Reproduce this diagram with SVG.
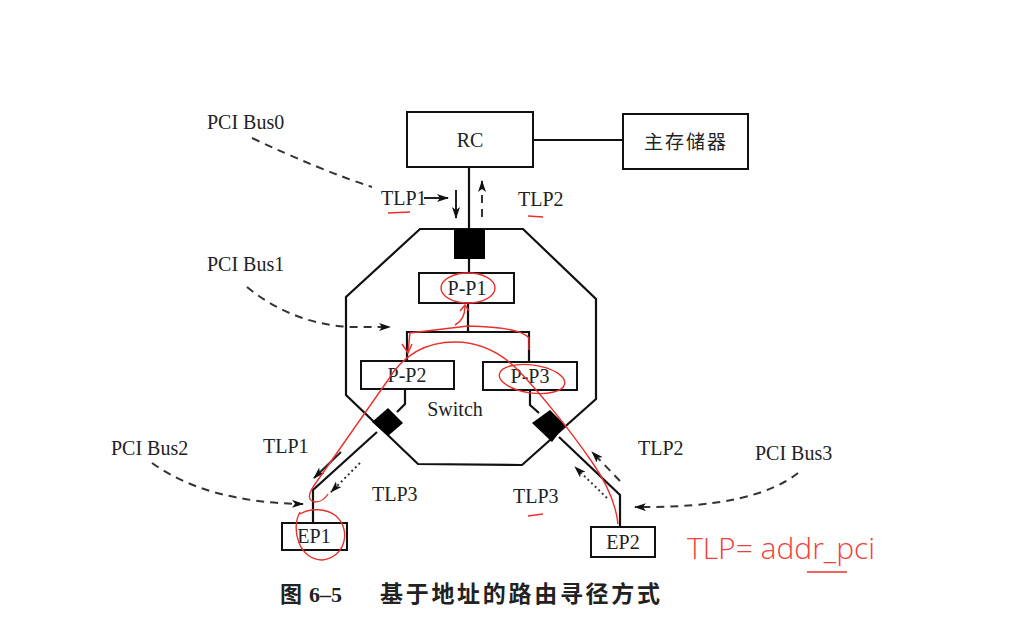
<svg xmlns="http://www.w3.org/2000/svg" width="1024" height="643" viewBox="0 0 1024 643">
<style>
.box{fill:#fff;stroke:#111;stroke-width:2}
.ln{fill:none;stroke:#111;stroke-width:2.2}
.lbl{font-family:"Liberation Serif","Times New Roman",serif;font-size:20px;fill:#222}
.mid{text-anchor:middle}
.dash{fill:none;stroke:#333;stroke-width:2;stroke-dasharray:8,6}
.dot{fill:none;stroke:#333;stroke-width:2;stroke-dasharray:2,3}
.sol{fill:none;stroke:#222;stroke-width:2}
.red{fill:none;stroke:#e8302c;stroke-width:1.4}
.port{fill:#000}
</style>
<defs>
<marker id="ah" markerWidth="12" markerHeight="8" refX="11" refY="4" orient="auto" markerUnits="userSpaceOnUse">
<path d="M0,0 L12,4 L0,8 L3,4 z" fill="#111"/>
</marker>
</defs>
<rect width="1024" height="643" fill="#fff"/>

<g id="switch">
<polygon class="ln" points="420,229 523,229 596,299 596,399 522,465 418,464 346,395 346,297"/>
<text class="lbl mid" x="455" y="416">Switch</text>
</g>

<g id="RC">
<rect class="box" x="407" y="112" width="126" height="55"/>
<text class="lbl mid" x="470" y="147">RC</text>
</g>
<g id="memory">
<rect class="box" x="623" y="114" width="125" height="55"/>
<text class="mid" x="686" y="149" style="font-family:'Noto Sans CJK SC',sans-serif;font-size:19px;letter-spacing:2px;fill:#222">主存储器</text>
</g>
<g id="P-P1">
<rect class="box" x="419" y="273" width="95" height="30"/>
<text class="lbl mid" x="467" y="295">P-P1</text>
</g>
<g id="P-P2">
<rect class="box" x="361" y="361" width="93" height="28"/>
<text class="lbl mid" x="407" y="382">P-P2</text>
</g>
<g id="P-P3">
<rect class="box" x="483" y="362" width="94" height="28"/>
<text class="lbl mid" x="530" y="383">P-P3</text>
</g>
<g id="EP1">
<rect class="box" x="282" y="523" width="65" height="27"/>
<text class="lbl mid" x="314" y="543">EP1</text>
</g>
<g id="EP2">
<rect class="box" x="591" y="527" width="64" height="30"/>
<text class="lbl mid" x="623" y="549">EP2</text>
</g>

<g id="connectors">
<line class="ln" x1="533" y1="140" x2="623" y2="140"/>
<line class="ln" x1="469" y1="167" x2="469" y2="229"/>
<line class="ln" x1="469" y1="259" x2="469" y2="273"/>
<line class="ln" x1="468" y1="303" x2="468" y2="332"/>
<polyline class="ln" points="407,361 407,332 529,332 529,362"/>
<polyline class="ln" points="405,389 405,404 397,412"/>
<polyline class="ln" points="530,390 530,405 539,413"/>
<polyline class="ln" points="377,432 313,490 313,523"/>
<polyline class="ln" points="559,437 620,495 620,527"/>
</g>

<g id="ports">
<rect class="port" x="454" y="229" width="31" height="30"/>
<polygon class="port" points="388,408 403,423 388,436 372,422"/>
<polygon class="port" points="550,410 565,425 552,442 532,423"/>
</g>

<g id="labels">
<text class="lbl" x="207" y="129">PCI Bus0</text>
<text class="lbl" x="207" y="271">PCI Bus1</text>
<text class="lbl" x="111" y="455">PCI Bus2</text>
<text class="lbl" x="755" y="460">PCI Bus3</text>
<text class="lbl" x="381" y="205">TLP1</text>
<text class="lbl" x="518" y="206">TLP2</text>
<text class="lbl" x="263" y="453">TLP1</text>
<text class="lbl" x="372" y="501">TLP3</text>
<text class="lbl" x="638" y="455">TLP2</text>
<text class="lbl" x="513" y="503">TLP3</text>
</g>

<g id="flows">
<path class="dash" d="M252,138 Q320,170 372,187"/>
<path class="dash" d="M247,287 C275,310 310,325 350,327 L390,327" marker-end="url(#ah)"/>
<path class="dash" d="M152,463 C190,490 240,503 303,504" marker-end="url(#ah)"/>
<path class="dash" d="M798,473 C770,495 720,508 635,507" marker-end="url(#ah)"/>
<line class="sol" x1="424" y1="198" x2="448" y2="198" marker-end="url(#ah)"/>
<line class="sol" x1="456" y1="190" x2="456" y2="218" marker-end="url(#ah)"/>
<line class="dash" x1="482" y1="217" x2="482" y2="181" marker-end="url(#ah)"/>
<line class="sol" x1="341" y1="452" x2="314" y2="478" marker-end="url(#ah)"/>
<line class="dot" x1="360" y1="463" x2="331" y2="492" marker-end="url(#ah)"/>
<line class="dash" x1="620" y1="481" x2="592" y2="452" marker-end="url(#ah)"/>
<line class="dot" x1="607" y1="498" x2="575" y2="467" marker-end="url(#ah)"/>
</g>

<g id="annotations">
<ellipse class="red" cx="468" cy="288" rx="27" ry="15"/>
<ellipse class="red" cx="532" cy="379" rx="33" ry="14" transform="rotate(8 532 379)"/>
<path class="red" d="M300,512 C290,530 300,560 322,560 C345,558 352,530 336,516 C326,508 310,508 300,514"/>
<path class="red" d="M529,350 L529,338 Q520,327 468,326 L410,333 L408,352"/>
<path class="red" d="M402,344 L408,353 L412,344"/>
<path class="red" d="M455,325 Q465,320 465,306"/>
<path class="red" d="M460,311 L465,305 L469,311"/>
<path class="red" d="M313,487 L388,380 C405,352 430,342 455,342 C480,342 500,352 518,370 C540,393 570,430 592,462 C608,485 616,505 618,524"/>
<path class="red" d="M313,487 Q305,500 315,502 Q323,502 328,494"/>
<line class="red" x1="388" y1="213" x2="410" y2="212"/>
<line class="red" x1="528" y1="216" x2="543" y2="217"/>
<line class="red" x1="528" y1="516" x2="543" y2="514"/>
<line class="red" x1="807" y1="572" x2="847" y2="572"/>
<text x="687" y="559" style="font-family:'Open Sans',sans-serif;font-weight:300;font-size:30px;fill:#f0403c">TLP= addr_pci</text>
</g>

<g id="caption">
<text x="280" y="602" style="font-size:22px;font-weight:bold;fill:#222"><tspan style="font-family:'Noto Sans CJK SC',sans-serif">图</tspan><tspan dx="7" style="font-family:'Liberation Serif',serif">6–5</tspan></text>
<text x="380" y="602" textLength="280" lengthAdjust="spacing" style="font-family:'Noto Sans CJK SC',sans-serif;font-size:23px;font-weight:bold;fill:#222">基于地址的路由寻径方式</text>
</g>
</svg>
